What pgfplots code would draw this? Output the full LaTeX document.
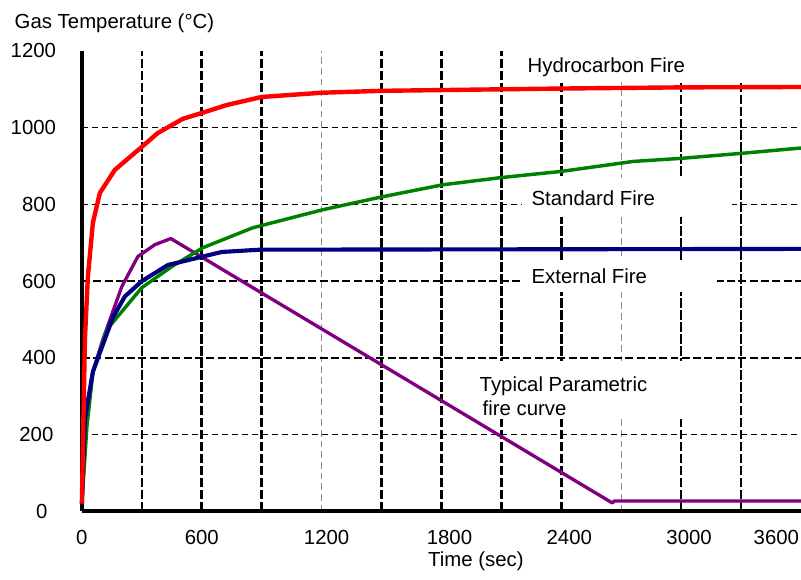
\documentclass[border=0pt]{standalone}
\usepackage{fontspec}
\setmainfont{Liberation Sans}
\usepackage{pgfplots}
\pgfplotsset{compat=1.18}
\definecolor{hcred}{RGB}{255,0,0}
\definecolor{stdgreen}{RGB}{0,128,0}
\definecolor{extblue}{RGB}{0,0,128}
\definecolor{parpurple}{RGB}{128,0,128}
\newcommand{\lblfont}{\fontsize{15.3}{18}\selectfont}
\begin{document}
\begin{tikzpicture}
\begin{axis}[
  name=ax, scale only axis, width=540pt, height=345.75pt,
  xmin=0, xmax=3600, ymin=0, ymax=1200, enlargelimits=false, clip=false,
  axis x line=bottom, axis y line=left,
  axis line style={-, line width=3pt, black},
  major tick length=0pt, minor tick length=0pt, tick style={draw=none},
  /pgf/number format/assume math mode=true,
  tick label style={font=\lblfont},
  x tick label style={yshift=-10.65pt},
  y tick label style={xshift=-15.9pt},
  xtick={300,600,900,1500,1800,2100,2400,3000,3300},
  xticklabels={,600,,,\hspace*{12pt}1800,,\hspace*{12pt}2400,\hspace*{12pt}3000,},
  minor xtick={1200,2700},
  extra x ticks={0,1200,3600},
  extra x tick labels={0,\hspace*{7.5pt}1200,\makebox[0pt][r]{3600\hspace*{1.5pt}}},
  ytick={400,600},
  yticklabels={400,600},
  minor ytick={200,800,1000},
  extra y ticks={0,200,800,1000,1200},
  extra y tick labels={0\hspace*{6.5pt},200\hspace*{2pt},800,1000,1200},
  xmajorgrids, xminorgrids, ymajorgrids, yminorgrids,
  major x grid style={black, line width=1.9pt, dash pattern=on 7pt off 2pt},
  minor x grid style={black!45, line width=0.7pt, dash pattern=on 5pt off 3pt},
  major y grid style={black, line width=1.9pt, dash pattern=on 6pt off 2.5pt},
  minor y grid style={black, line width=0.75pt, dash pattern=on 4.5pt off 3pt},
  extra x tick style={grid=none}, extra y tick style={grid=none},
  every axis y label/.style={at={(0,1)}, anchor=base west, xshift=-54pt, yshift=16.9pt, font=\lblfont},
  every axis x label/.style={at={(0.548,0)}, anchor=base, yshift=-41.25pt, font=\lblfont},
  ylabel={Gas Temperature (°C)},
  xlabel={Time (sec)},
]
% white label boxes
\fill[white] (axis cs:2165,1205) rectangle (axis cs:3600,1119);
\fill[white] (axis cs:2205,869) rectangle (axis cs:3255,768);
\fill[white] (axis cs:2200,656) rectangle (axis cs:3180,573);
\fill[white] (axis cs:1970,393) rectangle (axis cs:3290,239.5);
\node[anchor=base west, inner sep=0pt, font=\lblfont] at (axis cs:2230,1145) {Hydrocarbon Fire};
\node[anchor=base west, inner sep=0pt, font=\lblfont] at (axis cs:2250,796.5) {Standard Fire};
\node[anchor=base west, inner sep=0pt, font=\lblfont] at (axis cs:2250,593.5) {External Fire};
\node[anchor=base west, inner sep=0pt, font=\lblfont] at (axis cs:1990,312) {Typical Parametric};
\node[anchor=base west, inner sep=0pt, font=\lblfont] at (axis cs:2005,251) {fire curve};
% Typical parametric fire curve
\addplot[parpurple, line width=2.5pt, line join=round] coordinates {
 (0,20) (15,240) (55,364) (105,448) (200,586) (280,664) (365,695) (445,711)
 (2655,22) (2665,27) (3600,27)};
% Standard fire
\addplot[stdgreen, line width=2.6pt, line join=round] coordinates {
 (0,20) (25,221) (55,362) (125,474) (300,583) (450,638) (605,687) (855,739)
 (1205,786) (1505,820) (1805,851) (2100,870) (2400,886) (2760,912) (3000,920)
 (3300,933) (3600,947)};
% External fire
\addplot[extblue, line width=3.1pt, line join=round] coordinates {
 (0,20) (15,240) (55,364) (155,505) (215,560) (300,600) (430,642)
 (605,664) (700,676) (890,682) (3600,684)};
% Hydrocarbon fire
\addplot[hcred, line width=3.3pt, line join=round] coordinates {
 (0,20) (15,448) (30,612) (55,752) (90,830) (165,890) (300,950) (380,986)
 (505,1023) (605,1039) (725,1059) (900,1080) (1200,1091) (1500,1096)
 (1800,1098) (2400,1102) (3000,1105) (3600,1106)};
\end{axis}
\pgfresetboundingbox
\path[use as bounding box] ([shift={(-61.5pt,-51pt)}]ax.south west) rectangle ([shift={(0pt,38.25pt)}]ax.north east);
\end{tikzpicture}
\end{document}
